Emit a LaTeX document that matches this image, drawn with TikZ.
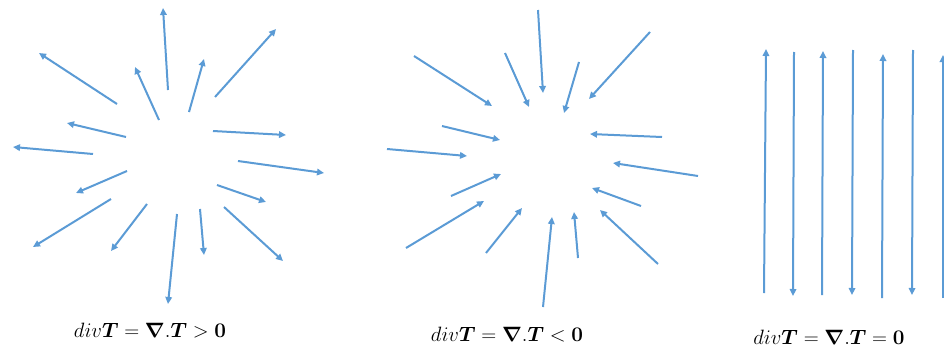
\documentclass[tikz,border=0pt]{standalone}
\usepackage{amsmath,amssymb,bm}
\usepackage{xcolor}
\usepackage{tikz}
\usetikzlibrary{arrows.meta}
\definecolor{fieldblue}{HTML}{5B9BD5}
\tikzset{
  fieldarrow/.style={
    -{Triangle[length=7pt,width=6.5pt]},
    line width=2pt,
    draw=fieldblue
  },
  divlabel/.style={
    inner sep=0pt,
    font=\fontsize{21.5}{24}\selectfont
  }
}
\begin{document}
\begin{tikzpicture}[x=1pt,y=-1pt]
    \useasboundingbox (0,0) rectangle (944,348);
    % outward field (source)
    \foreach \n/\tx/\ty/\hx/\hy in {1/168/90/163/8, 2/117/104/39/53, 3/159/120/135/67, 4/189/112/204/59,
      5/215/97/276/29, 6/126/137/67/123, 7/93/154/13/147, 8/213/131/286/135,
      9/238/161/324/173, 10/127/171/76/193, 11/111/199/33/247, 12/147/204/111/251,
      13/177/214/168/304, 14/200/209/204/255, 15/217/185/266/202, 16/224/207/283/261} {
      \coordinate (src\n t) at (\tx,\ty);
      \coordinate (src\n h) at (\hx,\hy);
      \draw[fieldarrow] (src\n t) -- (src\n h);
    }
    % inward field (sink)
    \foreach \n/\tx/\ty/\hx/\hy in {1/538/10/543/93, 2/414/56/492/106, 3/505/53/529/107, 4/579/62/564/113,
      5/650/32/589/99, 6/442/126/500/140, 7/387/149/467/156, 8/662/137/590/134,
      9/698/176/613/163, 10/451/196/501/174, 11/406/248/484/201, 12/486/253/522/208,
      13/543/307/552/217, 14/578/258/574/212, 15/641/206/592/188, 16/658/264/600/210} {
      \coordinate (snk\n t) at (\tx,\ty);
      \coordinate (snk\n h) at (\hx,\hy);
      \draw[fieldarrow] (snk\n t) -- (snk\n h);
    }
    % parallel field (no divergence)
    \foreach \n/\tx/\ty/\hx/\hy in {1/764/293/766/49, 2/794/52/793/296, 3/822/295/823/51, 4/853/50/852/295,
      5/882/298/883/54, 6/913/50/912/295, 7/943/298/943/55} {
      \coordinate (par\n t) at (\tx,\ty);
      \coordinate (par\n h) at (\hx,\hy);
      \draw[fieldarrow] (par\n t) -- (par\n h);
    }
    \node[divlabel] (divpos) at (150,331) {$div\bm{T}=\bm{\nabla}.\bm{T}>\bm{0}$};
    \node[divlabel] (divneg) at (507,335) {$div\bm{T}=\bm{\nabla}.\bm{T}<\bm{0}$};
    \node[divlabel] (divzero) at (829,337) {$div\bm{T}=\bm{\nabla}.\bm{T}=\bm{0}$};
  \end{tikzpicture}
\end{document}
